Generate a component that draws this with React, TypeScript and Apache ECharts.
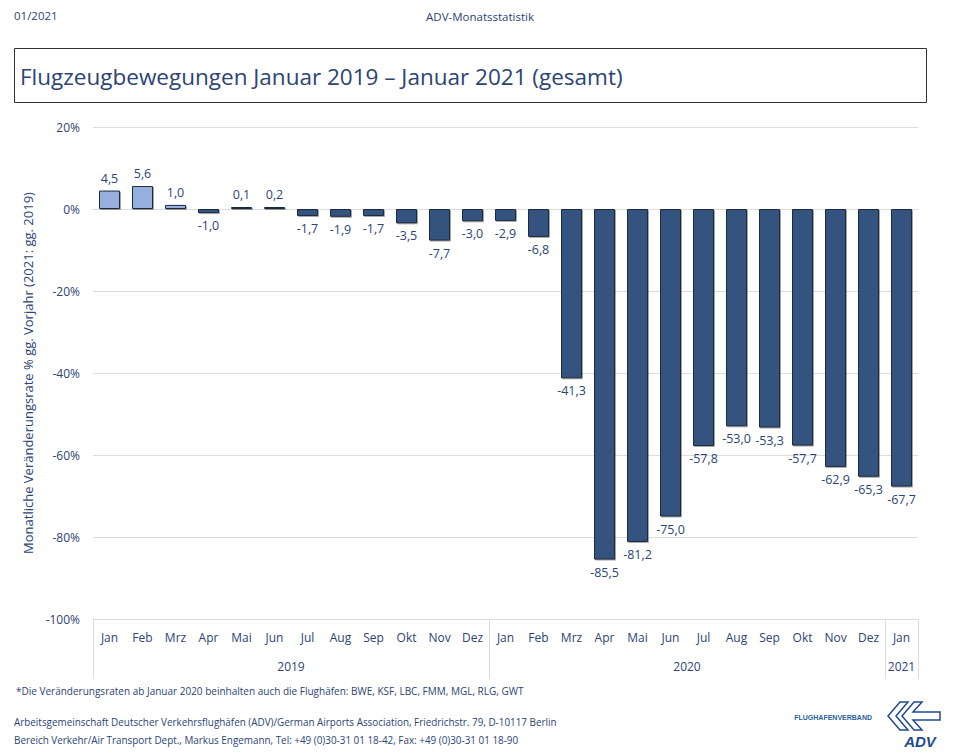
import React, { useEffect, useRef } from "react";
import * as echarts from "echarts";

const months = ["Jan","Feb","Mrz","Apr","Mai","Jun","Jul","Aug","Sep","Okt","Nov","Dez","Jan","Feb","Mrz","Apr","Mai","Jun","Jul","Aug","Sep","Okt","Nov","Dez","Jan"];
const values = [4.5,5.6,1.0,-1.0,0.1,0.2,-1.7,-1.9,-1.7,-3.5,-7.7,-3.0,-2.9,-6.8,-41.3,-85.5,-81.2,-75.0,-57.8,-53.0,-53.3,-57.7,-62.9,-65.3,-67.7];
const yearLabels = ["2019","2020","2021"];
const yearCenters = [5.5, 17.5, 24];
const yearBounds = [-0.5, 11.5, 23.5, 24.5];

const TXT = "#2b4474";
const DARK = "#34537f";
const LIGHT = "#97afdc";
const FONT = "'Open Sans', 'DejaVu Sans', sans-serif";

export default function App() {
  const ref = useRef<HTMLDivElement>(null);
  useEffect(() => {
    document.body.style.margin = "0";
    const chart = echarts.init(ref.current!, null, { renderer: "svg" });
    const fmt = (v: number) => v.toFixed(1).replace(".", ",");
    chart.setOption({
      animation: false,
      textStyle: { fontFamily: FONT },
      grid: { left: 93, right: 42, top: 127, bottom: 135, containLabel: false },
      xAxis: [
        {
          type: "category",
          data: months,
          position: "bottom",
          axisLine: { show: true, lineStyle: { color: "#dddddd" } },
          axisTick: { show: false },
          axisLabel: { color: TXT, fontSize: 12, margin: 12, fontFamily: FONT },
        },
        {
          type: "value",
          min: -0.5,
          max: 24.5,
          position: "bottom",
          axisLine: { show: false },
          splitLine: { show: false },
          axisTick: { show: true, customValues: yearBounds, length: 60, lineStyle: { color: "#dddddd" } },
          axisLabel: {
            show: true,
            customValues: yearCenters,
            margin: 41,
            color: TXT,
            fontSize: 12,
            fontFamily: FONT,
            formatter: (v: number) => yearLabels[yearCenters.indexOf(v)] ?? "",
          },
        },
      ],
      yAxis: {
        type: "value",
        min: -100,
        max: 20,
        interval: 20,
        axisLine: { show: false },
        axisTick: { show: false },
        splitLine: { lineStyle: { color: "#dddddd" } },
        axisLabel: { color: TXT, fontSize: 12, margin: 13, formatter: (v: number) => v + "%" },
        name: "Monatliche Veränderungsrate % gg. Vorjahr (2021: gg. 2019)",
        nameLocation: "middle",
        nameGap: 56,
        nameRotate: 90,
        nameTextStyle: { color: TXT, fontSize: 13, fontFamily: FONT },
      },
      series: [
        {
          type: "bar",
          xAxisIndex: 0,
          barWidth: 21,
          barMinHeight: 2,
          z: 3,
          data: values.map((v) => ({
            value: v,
            itemStyle: {
              color: v >= 0 ? LIGHT : DARK,
              borderColor: "#1e2a3e",
              borderWidth: 1,
              shadowColor: "rgba(0,0,0,0.35)",
              shadowOffsetX: 1,
              shadowOffsetY: 1,
            },
            label: { position: v >= 0 ? "top" : "bottom" },
          })),
          label: {
            show: true,
            distance: 6,
            color: TXT,
            fontSize: 12.5,
            fontFamily: FONT,
            formatter: (p: any) => fmt(p.value),
          },
        },
      ],
      graphic: [
        { type: "text", left: 14, top: 9, style: { text: "01/2021", fill: TXT, fontSize: 11.5, fontFamily: FONT } },
        { type: "text", x: 480, y: 16, style: { text: "ADV-Monatsstatistik", fill: TXT, fontSize: 11.5, fontFamily: FONT, textAlign: "center", textVerticalAlign: "middle" } },
        { type: "rect", shape: { x: 14.5, y: 48.5, width: 912, height: 54 }, style: { fill: "none", stroke: "#333", lineWidth: 1 } },
        { type: "text", x: 20, y: 76, style: { text: "Flugzeugbewegungen Januar 2019 – Januar 2021 (gesamt)", fill: TXT, fontSize: 22.5, fontFamily: FONT, textVerticalAlign: "middle" } },
        { type: "text", x: 16, y: 691, style: { text: "*Die Veränderungsraten ab Januar 2020 beinhalten auch die Flughäfen: BWE, KSF, LBC, FMM, MGL, RLG, GWT", fill: TXT, fontSize: 10, fontFamily: FONT, textVerticalAlign: "middle" } },
        { type: "text", x: 14, y: 722, style: { text: "Arbeitsgemeinschaft Deutscher Verkehrsflughäfen (ADV)/German Airports Association, Friedrichstr. 79, D-10117 Berlin", fill: TXT, fontSize: 9.9, fontFamily: FONT, textVerticalAlign: "middle" } },
        { type: "text", x: 14, y: 740, style: { text: "Bereich Verkehr/Air Transport Dept., Markus Engemann, Tel: +49 (0)30-31 01 18-42, Fax: +49 (0)30-31 01 18-90", fill: TXT, fontSize: 9.9, fontFamily: FONT, textVerticalAlign: "middle" } },
        { type: "text", x: 872, y: 717, style: { text: "FLUGHAFENVERBAND", fill: "#2a5fa0", fontSize: 7, fontWeight: "bold", fontFamily: "'Liberation Sans', sans-serif", textAlign: "right", textVerticalAlign: "middle" } },
        { type: "polygon", shape: { points: [[900,702],[908,702],[896,716],[908,730],[900,730],[888,716]] }, style: { fill: "none", stroke: "#1e4b8f", lineWidth: 1.5 } },
        { type: "polygon", shape: { points: [[914,702],[922,702],[913,712],[940,712],[940,720],[913,720],[922,730],[914,730],[902,716]] }, style: { fill: "none", stroke: "#1e4b8f", lineWidth: 1.5 } },
        { type: "text", x: 920, y: 741, style: { text: "ADV", fill: "#1e4b8f", fontSize: 15, fontWeight: "bold", fontStyle: "italic", fontFamily: "'Liberation Sans', sans-serif", textAlign: "center", textVerticalAlign: "middle" } },
      ],
    });
    return () => chart.dispose();
  }, []);
  return <div ref={ref} style={{ width: 960, height: 754 }} />;
}
